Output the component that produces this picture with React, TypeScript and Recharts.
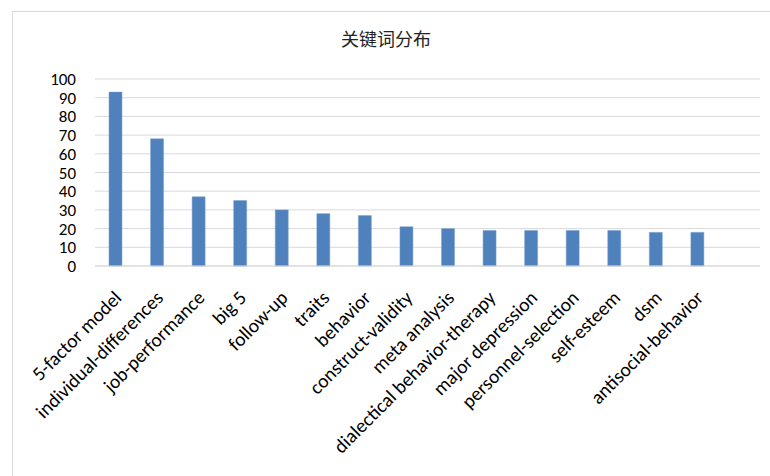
import { BarChart, Bar, XAxis, YAxis, CartesianGrid } from "recharts";

const keywords = [
  "5-factor model",
  "individual-differences",
  "job-performance",
  "big 5",
  "follow-up",
  "traits",
  "behavior",
  "construct-validity",
  "meta analysis",
  "dialectical behavior-therapy",
  "major depression",
  "personnel-selection",
  "self-esteem",
  "dsm",
  "antisocial-behavior",
  "",
];

const counts = [93, 68, 37, 35, 30, 28, 27, 21, 20, 19, 19, 19, 19, 18, 18, null];

const yTicks = [0, 10, 20, 30, 40, 50, 60, 70, 80, 90, 100];

const data = keywords.map((k, i) => ({ keyword: k, count: counts[i] }));

const FONT = "Calibri, Carlito, 'Liberation Sans', sans-serif";

const AngledTick = ({ x, y, payload }: any) => {
  if (!payload.value) return null;
  const ax = x + 7;
  const ay = y + 33;
  return (
    <text
      x={ax}
      y={ay}
      transform={`rotate(-45, ${ax}, ${ay})`}
      textAnchor="end"
      fontSize={19.5}
      fontFamily={FONT}
      fill="#000"
    >
      {payload.value}
    </text>
  );
};

export default function App() {
  return (
    <div
      style={{
        position: "fixed",
        left: 0,
        top: 0,
        width: 770,
        height: 476,
        background: "#fff",
        overflow: "hidden",
      }}
    >
      <div
        style={{
          position: "absolute",
          left: 12,
          top: 11,
          width: 800,
          height: 500,
          border: "1px solid #D9D9D9",
        }}
      />
      <div
        style={{
          position: "absolute",
          left: 0,
          top: 25,
          width: 772,
          textAlign: "center",
          fontSize: 18,
          fontFamily: "'Noto Sans CJK SC', sans-serif",
          color: "#222",
        }}
      >
        关键词分布
      </div>
      <div style={{ position: "absolute", left: 0, top: 0 }}>
        <BarChart
          width={770}
          height={476}
          data={data}
          margin={{ top: 79, right: 10, left: 0, bottom: 0 }}
          barCategoryGap={0}
        >
          <CartesianGrid vertical={false} stroke="#D9D9D9" />
          <XAxis
            dataKey="keyword"
            interval={0}
            height={210}
            tickLine={false}
            axisLine={{ stroke: "#D9D9D9" }}
            tickSize={0}
            tickMargin={0}
            tick={<AngledTick />}
          />
          <YAxis
            width={95}
            domain={[0, 100]}
            ticks={yTicks}
            axisLine={false}
            tickLine={false}
            tickSize={0}
            tickMargin={19}
            interval={0}
            tick={{ fill: "#000", fontSize: 17, fontFamily: FONT }}
          />
          <Bar
            dataKey="count"
            fill="#4F81BD"
            stroke="#7BA0CD"
            strokeWidth={0.5}
            barSize={13}
            isAnimationActive={false}
          />
        </BarChart>
      </div>
    </div>
  );
}
